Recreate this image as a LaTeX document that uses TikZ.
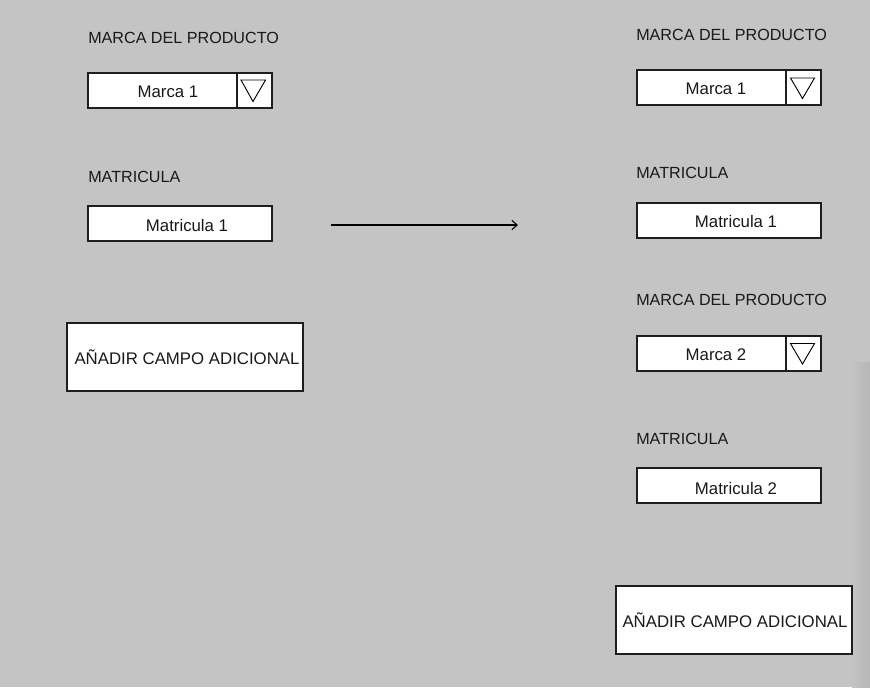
\documentclass[tikz,border=0pt]{standalone}
\usepackage{fontspec}
\setmainfont{Liberation Sans}
\usetikzlibrary{arrows.meta}
\definecolor{bgc}{RGB}{196,196,196}
\definecolor{shd}{RGB}{182,182,182}
\definecolor{edge}{RGB}{30,30,30}
\tikzset{
  lbl/.style={anchor=west,inner sep=0pt,font=\fontsize{12.1}{14}\selectfont,text=black!90},
  txt/.style={inner sep=0pt,font=\fontsize{12.6}{14}\selectfont,text=black!90},
  fieldbox/.style={draw=edge,fill=white,line width=0.9pt,minimum width=138pt,minimum height=26.25pt,inner sep=0pt},
  btnbox/.style={draw=edge,fill=white,line width=0.9pt,minimum width=177pt,minimum height=51pt,inner sep=0pt},
  divline/.style={draw=edge,line width=0.9pt},
  tri/.style={draw=black,line width=0.7pt,line join=miter},
  conn/.style={draw=black,line width=0.8pt,-{Straight Barb[length=4pt,width=7pt]}}
}
\begin{document}
\begin{tikzpicture}[x=0.75pt,y=-0.75pt]
\fill[bgc] (0,0) rectangle (870,687);
\useasboundingbox (0,0) rectangle (870,687);
\shade[left color=bgc,right color=shd] (852,362) rectangle (870,687);

% ---------- left column ----------
\node[lbl] (l1) at (88,38) {MARCA DEL PRODUCTO};
\node[fieldbox] (dd1) at (180,90.5) {};
\draw[divline] (237,73) -- (237,108);
\draw[tri] (241,80) -- (265.5,80) -- (253,101.5) -- cycle;
\node[txt] (dd1t) at (168,92) {Marca 1};

\node[lbl] (l2) at (88,177) {MATRICULA};
\node[fieldbox] (m1) at (180,223.5) {};
\node[txt] (m1t) at (187,225) {Matricula 1};

\node[btnbox] (b1) at (185,357) {};
\node[txt] (b1t) at (187,357) {AÑADIR CAMPO ADICIONAL};

% ---------- arrow ----------
\coordinate (as) at (331,225);
\coordinate (ae) at (518,225);
\draw[conn] (as) -- (ae);

% ---------- right column ----------
\node[lbl] (r1) at (636,35) {MARCA DEL PRODUCTO};
\node[fieldbox] (dd2) at (729,87.5) {};
\draw[divline] (786,70) -- (786,105);
\draw[tri] (790.5,78) -- (814.5,78) -- (802.5,98.5) -- cycle;
\node[txt] (dd2t) at (716,89) {Marca 1};

\node[lbl] (r2) at (636,173) {MATRICULA};
\node[fieldbox] (m2) at (729,220.5) {};
\node[txt] (m2t) at (736,221) {Matricula 1};

\node[lbl] (r3) at (636,300) {MARCA DEL PRODUCTO};
\node[fieldbox] (dd3) at (729,353.5) {};
\draw[divline] (786,336) -- (786,371);
\draw[tri] (790.5,343.5) -- (814.5,343.5) -- (802.5,364) -- cycle;
\node[txt] (dd3t) at (716,355) {Marca 2};

\node[lbl] (r4) at (636,439) {MATRICULA};
\node[fieldbox] (m3) at (729,485.5) {};
\node[txt] (m3t) at (736,488) {Matricula 2};

\node[btnbox] (b2) at (734,620) {};
\node[txt] (b2t) at (735,620) {AÑADIR CAMPO ADICIONAL};
\end{tikzpicture}
\end{document}
